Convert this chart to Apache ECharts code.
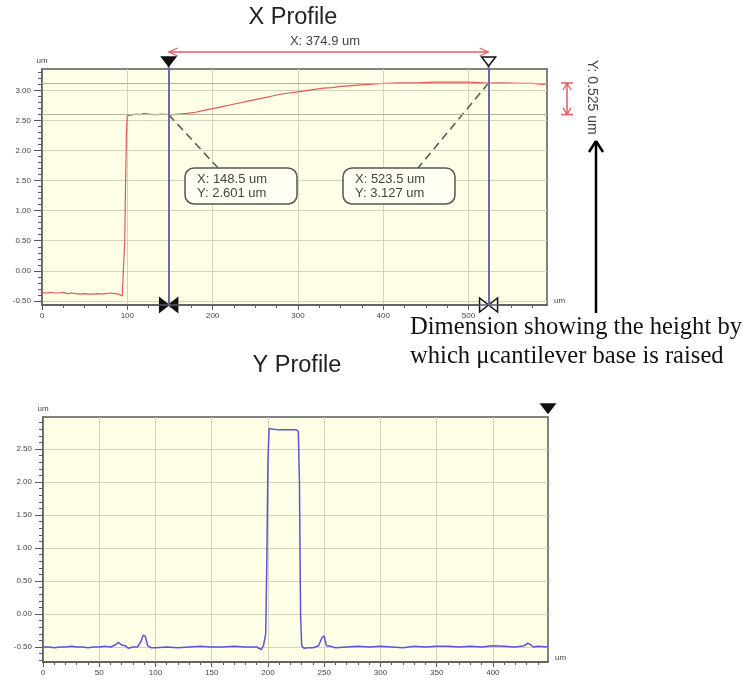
<!DOCTYPE html>
<html><head><meta charset="utf-8">
<script src="https://cdn.jsdelivr.net/npm/echarts@6/dist/echarts.min.js"></script>
<style>html,body{margin:0;padding:0;background:#fff}#c{width:751px;height:682px}</style>
</head><body><div id="c"></div>
<script>
// ---- X profile (red) ----
const xProfileX = [0,5,10,15,20,25,30,35,40,45,50,55,60,65,70,75,80,85,90,94,96,97,98,99,100,105,110,115,120,125,130,135,140,148.5,155,160,170,180,190,200,210,220,230,240,250,260,270,280,290,300,310,320,330,340,350,360,370,380,390,400,420,440,460,480,500,523.5,540,560,575,590];
const xProfileY = [-0.36,-0.37,-0.36,-0.37,-0.37,-0.36,-0.38,-0.37,-0.38,-0.39,-0.38,-0.39,-0.39,-0.38,-0.39,-0.38,-0.37,-0.38,-0.39,-0.42,-0.40,0.5,1.5,2.3,2.58,2.59,2.61,2.60,2.62,2.61,2.60,2.60,2.61,2.601,2.60,2.61,2.62,2.64,2.67,2.70,2.73,2.76,2.79,2.82,2.85,2.88,2.91,2.94,2.96,2.98,3.00,3.02,3.04,3.05,3.07,3.08,3.09,3.10,3.11,3.12,3.13,3.13,3.14,3.14,3.14,3.127,3.13,3.12,3.12,3.10];
// ---- Y profile (blue) ----
const yProfileX = [0,5,10,15,20,25,30,35,40,45,50,55,60,64,67,70,73,76,80,84,87,89,91,93,96,100,110,120,130,140,150,160,170,180,190,194,196,198,199,200,201,205,210,215,220,225,227,228,229,230,232,236,240,245,248,250,252,256,260,270,280,290,300,310,320,330,340,350,360,370,380,390,400,410,420,428,431,433,436,440,449];
const yProfileY = [-0.50,-0.50,-0.51,-0.50,-0.50,-0.49,-0.50,-0.50,-0.51,-0.50,-0.50,-0.49,-0.50,-0.47,-0.43,-0.47,-0.48,-0.52,-0.50,-0.50,-0.42,-0.32,-0.34,-0.48,-0.51,-0.51,-0.50,-0.51,-0.50,-0.49,-0.50,-0.50,-0.49,-0.50,-0.50,-0.54,-0.48,-0.30,0.8,2.30,2.81,2.80,2.79,2.79,2.79,2.79,2.77,2.0,0.0,-0.48,-0.52,-0.51,-0.51,-0.48,-0.36,-0.33,-0.48,-0.49,-0.51,-0.50,-0.49,-0.50,-0.49,-0.50,-0.51,-0.49,-0.50,-0.49,-0.49,-0.50,-0.49,-0.50,-0.48,-0.49,-0.50,-0.48,-0.44,-0.46,-0.50,-0.49,-0.50];
// ---- ticks ----
const topXTicks = [0,100,200,300,400,500];
const topYTicks = [-0.5,0,0.5,1,1.5,2,2.5,3];
const botXTicks = [0,50,100,150,200,250,300,350,400];
const botYTicks = [-0.5,0,0.5,1,1.5,2,2.5];
// cursors
const cursorX = [148.5, 523.5];
const cursorY = [2.601, 3.127];
const deltaX = '374.9';
const deltaY = '0.525';

function minorVals(lo, hi, step){const a=[];for(let i=0;;i++){const v=+(lo+i*step).toFixed(4);if(v>hi+1e-9)break;a.push(v);}return a;}
const topXMinor = minorVals(0,590,25);
const topYMinor = minorVals(-0.5,3.3,0.1);
const botXMinor = minorVals(0,445,10);
const botYMinor = minorVals(-0.7,2.9,0.1);

const AX = '#5a5a5a', GRIDC = '#d6d2b8', LBL = '#444';
function majorX(grid, min, max, ticks){return {gridIndex:grid,type:'value',min,max,position:'bottom',
  axisLine:{onZero:false,lineStyle:{color:AX,width:1.5}},
  axisTick:{customValues:ticks,length:5,lineStyle:{color:AX}},
  axisLabel:{customValues:ticks,fontSize:8,color:LBL,margin:7,fontFamily:'Liberation Sans'},
  splitLine:{show:true,lineStyle:{color:GRIDC,width:1}},
  name:'um',nameLocation:'end',nameGap:7,nameTextStyle:{fontSize:8,color:LBL,verticalAlign:'bottom',fontFamily:'Liberation Sans'}};}
function minorX(grid, min, max, ticks){return {gridIndex:grid,type:'value',min,max,position:'bottom',
  axisLine:{show:false,onZero:false},axisTick:{customValues:ticks,length:3,lineStyle:{color:AX}},
  axisLabel:{show:false},splitLine:{show:false}};}
function majorY(grid, min, max, ticks){return {gridIndex:grid,type:'value',min,max,position:'left',
  axisLine:{onZero:false,lineStyle:{color:AX,width:1.5}},
  axisTick:{customValues:ticks,length:8,lineStyle:{color:AX}},
  axisLabel:{customValues:ticks,fontSize:8,color:LBL,margin:11,formatter:v=>v.toFixed(2),fontFamily:'Liberation Sans'},
  splitLine:{show:true,lineStyle:{color:GRIDC,width:1}},
  name:'um',nameLocation:'end',nameGap:4,nameTextStyle:{fontSize:8,color:LBL,fontFamily:'Liberation Sans'}};}
function minorY(grid, min, max, ticks){return {gridIndex:grid,type:'value',min,max,position:'left',
  axisLine:{show:false,onZero:false},axisTick:{customValues:ticks,length:4,lineStyle:{color:AX}},
  axisLabel:{show:false},splitLine:{show:false}};}

const chart = echarts.init(document.getElementById('c'), null, {renderer:'canvas'});
chart.setOption({
  animation:false,
  backgroundColor:'#ffffff',
  grid:[
    {left:42,top:69,width:505,height:236,show:true,backgroundColor:'#fffee6',borderColor:AX,borderWidth:1.5},
    {left:43,top:417,width:505,height:245,show:true,backgroundColor:'#fffee6',borderColor:AX,borderWidth:1.5}
  ],
  xAxis:[majorX(0,0,592,topXTicks),minorX(0,0,592,topXMinor),majorX(1,0,449,botXTicks),minorX(1,0,449,botXMinor)],
  yAxis:[majorY(0,-0.57,3.36,topYTicks),minorY(0,-0.57,3.36,topYMinor),majorY(1,-0.727,2.985,botYTicks),minorY(1,-0.727,2.985,botYMinor)],
  series:[
    {type:'line',xAxisIndex:0,yAxisIndex:0,data:xProfileX.map((x,i)=>[x,xProfileY[i]]),showSymbol:false,
     lineStyle:{color:'#e05a55',width:1.2},z:3,
     markLine:{silent:true,symbol:'none',label:{show:false},
       data:[{yAxis:cursorY[0],lineStyle:{color:'#b8b49c',width:1,type:'solid'}},{yAxis:cursorY[1],lineStyle:{color:'#b8b49c',width:1,type:'solid'}},
             {xAxis:cursorX[0],lineStyle:{color:'#6a6ab2',width:2,type:'solid'}},{xAxis:cursorX[1],lineStyle:{color:'#6a6ab2',width:2,type:'solid'}}]}},
    {type:'line',xAxisIndex:2,yAxisIndex:2,data:yProfileX.map((x,i)=>[x,yProfileY[i]]),showSymbol:false,
     lineStyle:{color:'#5a56d8',width:1.5},z:3}
  ]
});

const p1 = chart.convertToPixel({gridIndex:0},[cursorX[0],cursorY[0]]);
const p2 = chart.convertToPixel({gridIndex:0},[cursorX[1],cursorY[1]]);
const gTop = 69, gBot = 305;
const g2r = chart.convertToPixel({gridIndex:1},[449,2.985]);
const txt = (x,y,t,size,fam,extra,z)=>({type:'text',x,y,z:z||20,style:Object.assign({text:t,fontSize:size,fontFamily:fam||'Liberation Sans',fill:'#333'},extra||{})});
const line = (x1,y1,x2,y2,stroke,w,dash)=>({type:'line',shape:{x1,y1,x2,y2},style:{stroke,lineWidth:w,lineDash:dash||null}});
function downTri(x,y,filled){return {type:'polygon',shape:{points:[[x-7,y-9],[x+7,y-9],[x,y]]},style:{fill:filled?'#111':'#fff',stroke:'#111',lineWidth:1.5}};}
function bowtie(x,y,filled){return {type:'polygon',shape:{points:[[x-9,y-7],[x-9,y+7],[x+9,y-7],[x+9,y+7]]},style:{fill:filled?'#111':'#fff',stroke:'#111',lineWidth:1.5}};}
function arrowHeadsH(x1,x2,y,c){return [line(x1,y,x1+9,y-4,c,1.2),line(x1,y,x1+9,y+4,c,1.2),line(x2,y,x2-9,y-4,c,1.2),line(x2,y,x2-9,y+4,c,1.2)];}
function callout(x,y,l1,l2){return [{type:'rect',z:10,shape:{x,y,width:112,height:36,r:9},style:{fill:'#fffff4',stroke:'#555',lineWidth:1.5}},
  txt(x+12,y+5,l1,13,null,{fill:'#444'},30),txt(x+12,y+19,l2,13,null,{fill:'#444'},30)];}
const RED='#e05a60';
const els = [
  txt(293,6,'X Profile',23.5,null,{textAlign:'center',fill:'#222'}),
  txt(297,354,'Y Profile',23.5,null,{textAlign:'center',fill:'#222'}),
  txt(325,35,'X: '+deltaX+' um',13,null,{textAlign:'center',fill:'#444'}),
  line(p1[0],52,p2[0],52,RED,1.5),
  ...arrowHeadsH(p1[0],p2[0],52,RED),
  line(p1[0],gTop-4,p1[0],gTop,'#6a6ab2',2), line(p2[0],gTop-4,p2[0],gTop,'#6a6ab2',2),
  downTri(p1[0],gTop-3,true), downTri(p2[0],gTop-3,false),
  bowtie(p1[0],gBot,true), bowtie(p2[0],gBot,false),
  line(p1[0],p1[1],218,168,'#555',1.5,[8,5]),
  line(p2[0],p2[1],418,168,'#555',1.5,[8,5]),
  ...callout(185,168,'X: '+cursorX[0].toFixed(1)+' um','Y: '+cursorY[0].toFixed(3)+' um'),
  ...callout(343,168,'X: '+cursorX[1].toFixed(1)+' um','Y: '+cursorY[1].toFixed(3)+' um'),
  // vertical dimension
  line(567,p2[1],567,p1[1],RED,1.5),
  line(561,p2[1],573,p2[1],RED,1.5), line(561,p1[1],573,p1[1],RED,1.5),
  line(567,p2[1],563,p2[1]+7,RED,1.2), line(567,p2[1],571,p2[1]+7,RED,1.2),
  line(567,p1[1],563,p1[1]-7,RED,1.2), line(567,p1[1],571,p1[1]-7,RED,1.2),
  {type:'text',x:599,y:60,rotation:-Math.PI/2,style:{text:'Y: '+deltaY+' um',fontSize:14,fontFamily:'Liberation Sans',fill:'#444'}},
  // black arrow
  line(596,313,596,141,'#000',2.5), line(589,152,596,141,'#000',2.5), line(603,152,596,141,'#000',2.5),
  txt(410,315,'Dimension showing the height by',24.6,'Liberation Serif',{fill:'#111'}),
  txt(410,344,'which \u03bccantilever base is raised',24.6,'Liberation Serif',{fill:'#111'}),
  downTri(g2r[0],g2r[1]-4,true)
];
chart.setOption({graphic:{elements:els}});
</script></body></html>
